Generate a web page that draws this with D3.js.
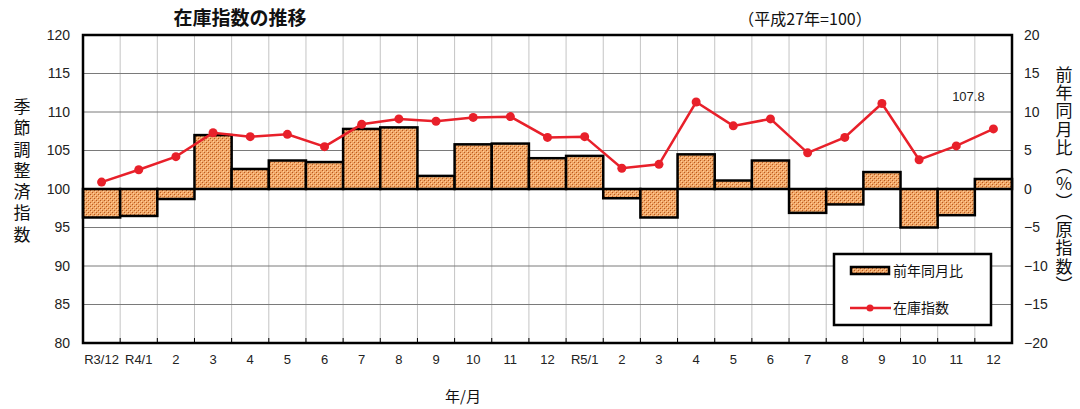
<!DOCTYPE html>
<html><head><meta charset="utf-8">
<script src="https://cdn.jsdelivr.net/npm/d3@7"></script>
<style>
body{margin:0;background:#fff;}
svg{display:block;font-family:"Noto Sans CJK JP","Liberation Sans",sans-serif;}
</style></head>
<body><svg id="c" width="1080" height="409"></svg>
<script>
const categories = ["R3/12","R4/1","2","3","4","5","6","7","8","9","10","11","12","R5/1","2","3","4","5","6","7","8","9","10","11","12"];
const yoyChange = [-3.7,-3.5,-1.3,7.0,2.6,3.7,3.5,7.8,8.0,1.7,5.8,5.9,4.0,4.3,-1.2,-3.7,4.5,1.1,3.7,-3.1,-2.0,2.2,-5.0,-3.4,1.3];
const inventoryIndex = [100.9,102.5,104.2,107.3,106.8,107.1,105.5,108.4,109.1,108.8,109.3,109.4,106.7,106.8,102.7,103.2,111.3,108.2,109.1,104.7,106.7,111.1,103.8,105.6,107.8];
const leftTicks = [80,85,90,95,100,105,110,115,120];
const rightTicks = [-20,-15,-10,-5,0,5,10,15,20];
const uid = categories.map((c,i)=>i+"");

const svg = d3.select("#c");
const m = {l:83, r:1012, t:35, b:343};

const defs = svg.append("defs");
const pat = defs.append("pattern").attr("id","hatch").attr("patternUnits","userSpaceOnUse").attr("width",4).attr("height",4);
pat.append("rect").attr("width",4).attr("height",4).attr("fill","#f2a868");
pat.append("rect").attr("x",0).attr("y",0).attr("width",1).attr("height",1).attr("fill","#b85a20");
pat.append("rect").attr("x",2).attr("y",2).attr("width",1).attr("height",1).attr("fill","#b85a20");
pat.append("rect").attr("x",1).attr("y",1).attr("width",1).attr("height",1).attr("fill","#fbd0a0");
pat.append("rect").attr("x",3).attr("y",3).attr("width",1).attr("height",1).attr("fill","#fbd0a0");

const x = d3.scaleBand().domain(uid).range([m.l, m.r]).padding(0);
const yL = d3.scaleLinear().domain([80,120]).range([m.b, m.t]);
const yR = d3.scaleLinear().domain([-20,20]).range([m.b, m.t]);

// gridlines
svg.append("g").selectAll("line").data(uid.slice(1)).join("line")
  .attr("x1",d=>x(d)).attr("x2",d=>x(d)).attr("y1",m.t).attr("y2",m.b)
  .attr("stroke","#c4c4c4").attr("stroke-width",1);
svg.append("g").selectAll("line").data(leftTicks.slice(1,-1)).join("line")
  .attr("x1",m.l).attr("x2",m.r).attr("y1",d=>yL(d)).attr("y2",d=>yL(d))
  .attr("stroke","#7a7a7a").attr("stroke-width",1);

// bars
svg.append("g").selectAll("rect").data(yoyChange).join("rect")
  .attr("x",(d,i)=>x(uid[i]))
  .attr("width",x.bandwidth())
  .attr("y",d=>yR(Math.max(0,d)))
  .attr("height",d=>Math.abs(yR(d)-yR(0)))
  .attr("fill","url(#hatch)").attr("stroke","#000").attr("stroke-width",2.5);

// plot border
svg.append("rect").attr("x",m.l).attr("y",m.t).attr("width",m.r-m.l).attr("height",m.b-m.t)
  .attr("fill","none").attr("stroke","#000").attr("stroke-width",2.5);

// line
const line = d3.line().x((d,i)=>x(uid[i])+x.bandwidth()/2).y(d=>yL(d));
svg.append("path").datum(inventoryIndex).attr("d",line).attr("fill","none")
  .attr("stroke","#e8202a").attr("stroke-width",2.5);
svg.append("g").selectAll("circle").data(inventoryIndex).join("circle")
  .attr("cx",(d,i)=>x(uid[i])+x.bandwidth()/2).attr("cy",d=>yL(d)).attr("r",4.5)
  .attr("fill","#e8202a");

// axes
const axL = svg.append("g").attr("transform",`translate(${m.l},0)`)
  .call(d3.axisLeft(yL).tickValues(leftTicks).tickSize(0).tickPadding(13));
axL.select(".domain").remove();
axL.selectAll("text").attr("font-size",14).attr("fill","#222").attr("font-family","Liberation Sans Narrow, Liberation Sans, sans-serif");

const axR = svg.append("g").attr("transform",`translate(${m.r},0)`)
  .call(d3.axisRight(yR).tickValues(rightTicks).tickSize(0).tickPadding(12)
    .tickFormat(d=> d<0 ? "−"+Math.abs(d) : d));
axR.select(".domain").remove();
axR.selectAll("text").attr("font-size",14).attr("fill","#222").attr("font-family","Liberation Sans Narrow, Liberation Sans, sans-serif");

const axB = svg.append("g").attr("transform",`translate(0,${m.b})`)
  .call(d3.axisBottom(x).tickFormat((d,i)=>categories[i]).tickSize(0).tickPadding(12));
axB.select(".domain").remove();
axB.selectAll("text").attr("font-size",13).attr("fill","#222").attr("font-family","Liberation Sans Narrow, Liberation Sans, sans-serif");
// small tick marks at boundaries
svg.append("g").selectAll("line").data(uid.slice(1)).join("line")
  .attr("x1",d=>x(d)).attr("x2",d=>x(d)).attr("y1",m.b-5).attr("y2",m.b)
  .attr("stroke","#000").attr("stroke-width",1);

// titles
svg.append("text").attr("x",240).attr("y",25).attr("text-anchor","middle")
  .attr("font-size",19).attr("font-weight","bold").attr("fill","#111").text("在庫指数の推移");
svg.append("text").attr("x",805).attr("y",25).attr("text-anchor","middle")
  .attr("font-size",16).attr("fill","#111").text("（平成27年=100）");
svg.append("text").attr("x",463).attr("y",402).attr("text-anchor","middle")
  .attr("font-size",15).attr("fill","#111").text("年/月");

// left vertical title
svg.append("text").attr("x",22).attr("y",98)
  .style("writing-mode","vertical-rl").attr("letter-spacing",4.3)
  .attr("font-size",17).attr("fill","#111").text("季節調整済指数");

// right vertical title
svg.append("text").attr("x",1064).attr("y",66)
  .style("writing-mode","vertical-rl").attr("letter-spacing",1.2)
  .attr("font-size",17).attr("fill","#111").text("前年同月比（％）（原指数）");

// data label
const last = inventoryIndex.length-1;
svg.append("text").attr("x",x(uid[last])+x.bandwidth()/2-25).attr("y",yL(inventoryIndex[last])-28)
  .attr("text-anchor","middle").attr("font-size",13).attr("fill","#222")
  .attr("font-family","Liberation Sans Narrow, Liberation Sans, sans-serif")
  .text(inventoryIndex[last].toFixed(1));

// legend
const lg = svg.append("g");
lg.append("rect").attr("x",834).attr("y",254).attr("width",157).attr("height",71)
  .attr("fill","#fff").attr("stroke","#000").attr("stroke-width",2.5);
lg.append("rect").attr("x",851).attr("y",267).attr("width",38).attr("height",7)
  .attr("fill","url(#hatch)").attr("stroke","#000").attr("stroke-width",2.5);
lg.append("text").attr("x",893).attr("y",276).attr("font-size",14).attr("fill","#111").text("前年同月比");
lg.append("line").attr("x1",850).attr("x2",891).attr("y1",308).attr("y2",308)
  .attr("stroke","#e8202a").attr("stroke-width",2.5);
lg.append("circle").attr("cx",870).attr("cy",308).attr("r",3.5).attr("fill","#e8202a");
lg.append("text").attr("x",893).attr("y",313).attr("font-size",14).attr("fill","#111").text("在庫指数");
</script></body></html>
